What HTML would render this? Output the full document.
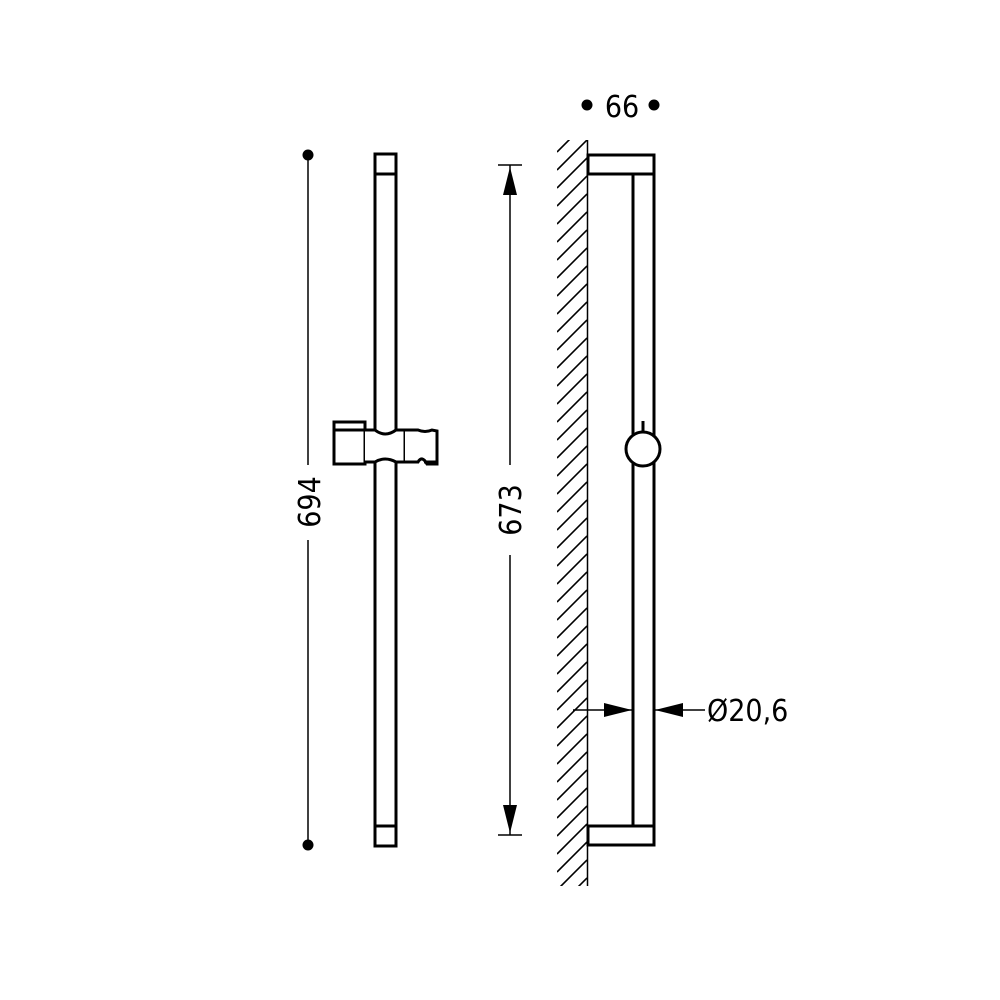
<!DOCTYPE html>
<html><head><style>body{margin:0;background:#fff}svg{display:block}</style></head><body>
<svg width="1000" height="1000" viewBox="0 0 1000 1000" xmlns="http://www.w3.org/2000/svg">
<defs>
<clipPath id="c"><rect x="557" y="140" width="30" height="746"/></clipPath>
<pattern id="h" x="557" y="140" width="30" height="18" patternUnits="userSpaceOnUse">
<path d="M0,30 L30,0 M0,12 L30,-18 M0,48 L30,18" stroke="#000" stroke-width="1.6"/>
</pattern>
</defs>
<rect x="557" y="140" width="30" height="746" fill="url(#h)"/>
<g stroke="#000" fill="none" stroke-width="1.5">
<line x1="587.5" y1="140" x2="587.5" y2="886"/>
<line x1="308" y1="155" x2="308" y2="465"/>
<line x1="308" y1="540" x2="308" y2="845"/>
<line x1="510" y1="165" x2="510" y2="465"/>
<line x1="510" y1="555" x2="510" y2="835"/>
<line x1="498" y1="165" x2="522" y2="165"/>
<line x1="498" y1="835" x2="522" y2="835"/>
<line x1="573" y1="710" x2="633" y2="710"/>
<line x1="654" y1="710" x2="705" y2="710"/>
</g>
<g fill="#000">
<circle cx="308" cy="155" r="5.5"/><circle cx="308" cy="845" r="5.5"/>
<circle cx="587" cy="105" r="5.5"/><circle cx="654" cy="105" r="5.5"/>
<polygon points="510,167 503,195 517,195"/>
<polygon points="510,833 503,805 517,805"/>
<polygon points="632,710 604,703 604,717"/>
<polygon points="655,710 683,703 683,717"/>
</g>
<g stroke="#000" fill="none" stroke-width="3">
<rect x="375" y="154" width="21" height="692"/>
<line x1="375" y1="174" x2="396" y2="174"/>
<line x1="375" y1="826" x2="396" y2="826"/>
<rect x="334" y="422" width="31" height="42" fill="#fff"/>
<line x1="334" y1="430" x2="365" y2="430"/>
<path d="M365,430 L375,430 Q385,438 396,430 L405,430 L405,462 L396,462 Q385,456 375,462 L365,462" fill="#fff"/>
<path d="M405,430 L418,430 Q425,433 432,430 L437,431 L437,464 L427,464 Q422,455 418,462 L405,462" fill="#fff"/>
<line x1="424" y1="462" x2="436" y2="462"/>
<rect x="588" y="155" width="66" height="19"/>
<rect x="588" y="826" width="66" height="19"/>
<line x1="633" y1="174" x2="633" y2="826"/>
<line x1="654" y1="155" x2="654" y2="845"/>
<line x1="643" y1="421" x2="643" y2="431"/>
<circle cx="643" cy="449" r="17" fill="#fff"/>
</g>
<g font-family="DejaVu Sans Condensed, DejaVu Sans, sans-serif" font-size="30" fill="#000">
<text x="622" y="117" text-anchor="middle">66</text>
<text x="707" y="721">Ø20,6</text>
<text transform="translate(320,502) rotate(-90)" text-anchor="middle">694</text>
<text transform="translate(521,510) rotate(-90)" text-anchor="middle">673</text>
</g>
</svg>
</body></html>
